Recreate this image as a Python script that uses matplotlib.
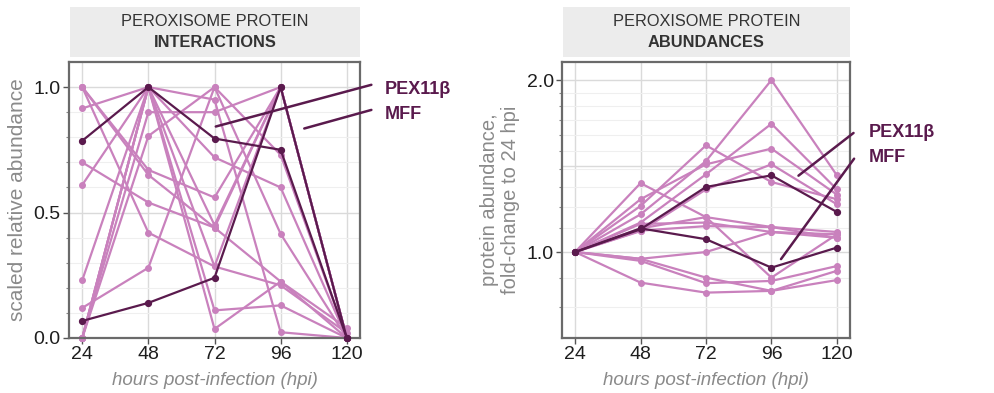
import numpy as np
import matplotlib
matplotlib.use("Agg")
import matplotlib.pyplot as plt
from matplotlib.ticker import FixedLocator, NullFormatter

plt.rcParams['font.family'] = ['Liberation Sans', 'DejaVu Sans']

hpi = [24, 48, 72, 96, 120]
hpi_labels = ["24", "48", "72", "96", "120"]

# ---- left panel: scaled relative abundance of interactions ----
inter_light = [
    [0.915, 1.00, 0.95, 0.023, 0.00],
    [1.00, 0.67, 0.56, 1.00, 0.00],
    [1.00, 0.65, 0.44, 0.225, 0.00],
    [1.00, 0.42, 0.285, 0.21, 0.02],
    [0.70, 0.54, 0.44, 1.00, 0.00],
    [0.61, 1.00, 0.72, 0.60, 0.00],
    [0.23, 1.00, 0.036, 0.225, 0.04],
    [0.12, 0.28, 1.00, 0.73, 0.00],
    [0.00, 0.90, 0.90, 1.00, 0.00],
    [0.00, 0.805, 1.00, 0.415, 0.00],
    [0.00, 1.00, 0.11, 0.13, 0.00],
    [0.00, 1.00, 0.285, 1.00, 0.00],
    [0.00, 1.00, 0.45, 1.00, 0.00],
]
inter_pex11b = [0.786, 1.00, 0.795, 0.75, 0.00]
inter_mff = [0.068, 0.14, 0.24, 1.00, 0.00]

# ---- right panel: protein abundance fold-change to 24 hpi ----
abund_light = [
    [1.0, 1.164, 1.443, 2.00, 1.362],
    [1.0, 1.204, 1.537, 1.326, 1.237],
    [1.0, 1.126, 1.368, 1.677, 1.287],
    [1.0, 1.237, 1.424, 1.517, 1.26],
    [1.0, 1.088, 1.287, 1.424, 1.212],
    [1.0, 1.32, 1.151, 1.106, 1.084],
    [1.0, 1.12, 1.126, 1.084, 1.074],
    [1.0, 1.09, 1.11, 1.106, 1.059],
    [1.0, 0.973, 1.0, 1.084, 1.059],
    [1.0, 0.973, 0.902, 0.855, 0.927],
    [1.0, 0.965, 0.882, 0.89, 0.945],
    [1.0, 0.884, 0.849, 0.855, 0.893],
    [1.0, 1.10, 1.151, 0.902, 1.074],
]
abund_pex11b = [1.0, 1.096, 1.30, 1.362, 1.175]
abund_mff = [1.0, 1.10, 1.053, 0.939, 1.018]

LIGHT = "#c981bd"
DARK = "#5a1a4d"
GRID_MAJ = "#dadada"
GRID_MIN = "#efefef"
FRAME = "#6a6a6a"
LABEL_GREY = "#8a8a8a"

W, H = 994, 393
fig = plt.figure(figsize=(W / 100, H / 100), dpi=100)


def px_axes(x0, y0, x1, y1):
    return [x0 / W, 1 - y1 / H, (x1 - x0) / W, (y1 - y0) / H]


def style_axes(ax):
    for s in ax.spines.values():
        s.set_color(FRAME)
        s.set_linewidth(1.6)
    ax.tick_params(axis='both', which='major', length=4, width=1, color="#555555",
                   labelsize=14, labelcolor="#1e1e1e", pad=2)
    ax.tick_params(axis='y', which='minor', length=2.5, width=0.8, color="#888888")
    ax.tick_params(axis='x', which='minor', length=0)
    ax.set_axisbelow(True)
    ax.set_xlim(19.2, 124.8)
    ax.set_xticks(hpi)
    ax.set_xticklabels(hpi_labels)
    ax.grid(True, which='major', color=GRID_MAJ, lw=1.0)
    ax.grid(True, which='minor', axis='y', color=GRID_MIN, lw=0.8)
    ax.set_xlabel("hours post-infection (hpi)", fontsize=13.5, style='italic',
                  color=LABEL_GREY, labelpad=6)


def strip(rect, bold_text):
    sax = fig.add_axes(rect)
    sax.set_facecolor("#ececec")
    for s in sax.spines.values():
        s.set_visible(False)
    sax.set_xticks([])
    sax.set_yticks([])
    sax.text(0.5, 0.70, "PEROXISOME PROTEIN", ha='center', va='center',
             fontsize=11.8, color="#333333", transform=sax.transAxes)
    sax.text(0.5, 0.29, bold_text, ha='center', va='center', fontsize=11.8,
             fontweight='bold', color="#333333", transform=sax.transAxes)


def plot_series(ax, light, pex, mff):
    for s in light:
        ax.plot(hpi, s, color=LIGHT, lw=1.6, marker='o', ms=4, mec=LIGHT,
                clip_on=False, zorder=2)
    for s in (pex, mff):
        ax.plot(hpi, s, color=DARK, lw=1.6, marker='o', ms=4.2, mec=DARK,
                clip_on=False, zorder=3)


# Left panel
ax1 = fig.add_axes(px_axes(69, 62, 360, 338))
plot_series(ax1, inter_light, inter_pex11b, inter_mff)
ax1.set_ylim(0, 1.1)
ax1.set_yticks([0.0, 0.5, 1.0])
ax1.set_yticklabels(["0.0", "0.5", "1.0"])
ax1.yaxis.set_minor_locator(FixedLocator([0.1, 0.2, 0.3, 0.4, 0.6, 0.7, 0.8, 0.9]))
style_axes(ax1)
ax1.set_ylabel("scaled relative abundance", fontsize=15, color=LABEL_GREY, labelpad=5)
strip(px_axes(70, 7, 360, 57), "INTERACTIONS")

ax1.annotate("", xy=(71.5, 0.84), xytext=(129.9, 1.012), xycoords='data',
             arrowprops=dict(arrowstyle='-', color=DARK, lw=1.8), annotation_clip=False)
ax1.annotate("", xy=(103.6, 0.832), xytext=(129.9, 0.912), xycoords='data',
             arrowprops=dict(arrowstyle='-', color=DARK, lw=1.8), annotation_clip=False)
ax1.text(133.9, 0.992, "PEX11β", fontsize=13, fontweight='bold', color=DARK,
         va='center', ha='left', clip_on=False)
ax1.text(133.9, 0.892, "MFF", fontsize=13, fontweight='bold', color=DARK,
         va='center', ha='left', clip_on=False)

# Right panel
ax2 = fig.add_axes(px_axes(562, 62, 850, 338))
plot_series(ax2, abund_light, abund_pex11b, abund_mff)
ax2.set_yscale('log', base=2)
ax2.set_ylim(2 ** -0.5, 2 ** 1.105)
ax2.set_yticks([1.0, 2.0])
ax2.set_yticklabels(["1.0", "2.0"])
ax2.yaxis.set_minor_locator(FixedLocator([0.8, 0.9, 1.1, 1.2, 1.3, 1.4, 1.5, 1.6, 1.7, 1.8, 1.9]))
ax2.yaxis.set_minor_formatter(NullFormatter())
style_axes(ax2)
ax2.axhline(2 ** 0.5, color=GRID_MAJ, lw=1.0, zorder=0.5)
ax2.set_ylabel("protein abundance,\nfold-change to 24 hpi", fontsize=14.5,
               color=LABEL_GREY, labelpad=5, linespacing=1.1)
strip(px_axes(563, 7, 850, 57), "ABUNDANCES")

ax2.annotate("", xy=(105.1, 1.351), xytext=(126.9, 1.627), xycoords='data',
             arrowprops=dict(arrowstyle='-', color=DARK, lw=1.8), annotation_clip=False)
ax2.annotate("", xy=(98.9, 0.963), xytext=(126.9, 1.47), xycoords='data',
             arrowprops=dict(arrowstyle='-', color=DARK, lw=1.8), annotation_clip=False)
ax2.text(131.6, 1.62, "PEX11β", fontsize=13, fontweight='bold', color=DARK,
         va='center', ha='left', clip_on=False)
ax2.text(131.6, 1.464, "MFF", fontsize=13, fontweight='bold', color=DARK,
         va='center', ha='left', clip_on=False)

fig.savefig("out.png", dpi=100, facecolor="white")
